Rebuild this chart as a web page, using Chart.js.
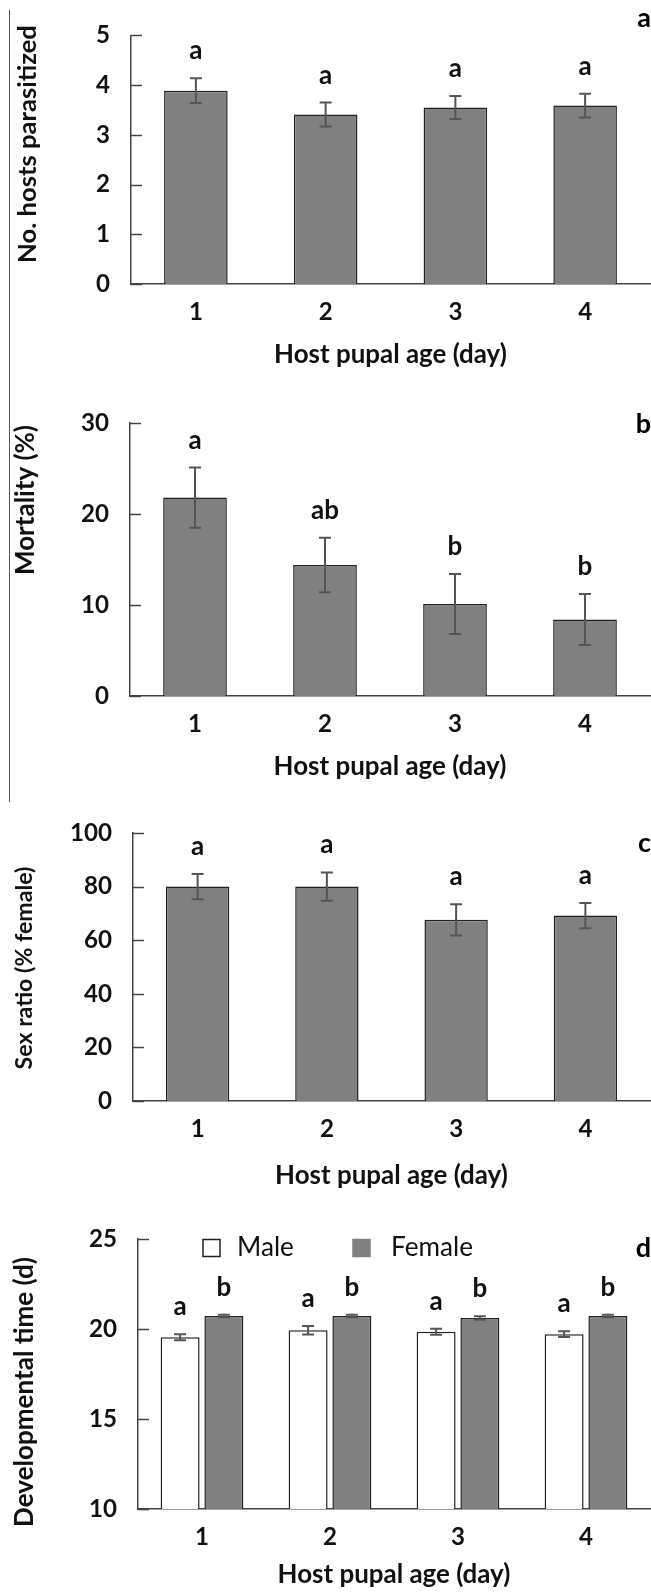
<!DOCTYPE html>
<html>
<head>
<meta charset="utf-8">
<script src="https://cdn.jsdelivr.net/npm/chart.js@4.4.0/dist/chart.umd.min.js"></script>
<style>
html, body { margin: 0; padding: 0; background: #fff; }
#page { position: relative; width: 651px; height: 1594px; overflow: hidden; }
#page canvas { position: absolute; left: 0; }
#edge { position: absolute; left: 9px; top: 10px; width: 1px; height: 792px; background: #555; }
</style>
</head>
<body>
<div id="page">
    <div id="edge"></div>
    <canvas id="chart_a" width="651" height="375" style="top:0px"></canvas>
    <canvas id="chart_b" width="651" height="410" style="top:380px"></canvas>
    <canvas id="chart_c" width="651" height="405" style="top:790px"></canvas>
    <canvas id="chart_d" width="651" height="394" style="top:1200px"></canvas>
</div>
<script>
const ages = ['1', '2', '3', '4'];

const hosts_mean = [3.89, 3.41, 3.55, 3.59];
const hosts_se = [0.25, 0.24, 0.23, 0.24];
const hosts_letters = ['a', 'a', 'a', 'a'];

const mort_mean = [21.8, 14.4, 10.1, 8.4];
const mort_se = [3.3, 3.0, 3.3, 2.8];
const mort_letters = ['a', 'ab', 'b', 'b'];

const sex_mean = [80.0, 80.0, 67.6, 69.2];
const sex_se = [4.7, 5.3, 5.8, 4.7];
const sex_letters = ['a', 'a', 'a', 'a'];

const male_dev = [19.54, 19.93, 19.85, 19.71];
const male_se = [0.17, 0.24, 0.17, 0.16];
const male_letters = ['a', 'a', 'a', 'a'];
const female_dev = [20.72, 20.72, 20.61, 20.72];
const female_se = [0.07, 0.07, 0.10, 0.07];
const female_letters = ['b', 'b', 'b', 'b'];

const FONT = 'Lato, "Open Sans", sans-serif';
const INK = '#111';

// pick a font size so a text gets the width it has in the figure
const measure_ctx = document.createElement('canvas').getContext('2d');
function fit_size(text, weight, target) {
    measure_ctx.font = weight + ' 100px ' + FONT;
    return 100 * target / measure_ctx.measureText(text).width;
}
const TICK_SIZE = fit_size('100', 'bold', 42);
const XTITLE_SIZE = fit_size('Host pupal age (day)', 'bold', 233);
const LETTER_SIZE = fit_size('ab', 'bold', 28);
const LEGEND_SIZE = fit_size('Female', 'normal', 82);

// error bars, letters, inward ticks, y title, panel letter, legend
const decor = {
    id: 'decor',
    afterDatasetsDraw(chart, args, opts) {
        const ctx = chart.ctx;
        const y = chart.scales.y;
        ctx.save();
        chart.data.datasets.forEach((ds, i) => {
            chart.getDatasetMeta(i).data.forEach((bar, j) => {
                const v = ds.data[j], e = ds.se[j];
                const top = y.getPixelForValue(v + e);
                const bot = y.getPixelForValue(v - e);
                ctx.strokeStyle = '#555';
                ctx.lineWidth = 2;
                ctx.beginPath();
                ctx.moveTo(bar.x, top); ctx.lineTo(bar.x, bot);
                ctx.moveTo(bar.x - 6, top); ctx.lineTo(bar.x + 6, top);
                ctx.moveTo(bar.x - 6, bot); ctx.lineTo(bar.x + 6, bot);
                ctx.stroke();
                ctx.fillStyle = INK;
                ctx.font = 'bold ' + LETTER_SIZE + 'px ' + FONT;
                ctx.textAlign = 'center';
                ctx.textBaseline = 'alphabetic';
                ctx.fillText(ds.letters[j], bar.x, top - 19);
            });
        });
        ctx.restore();
    },
    afterDraw(chart, args, opts) {
        const ctx = chart.ctx;
        const y = chart.scales.y;
        ctx.save();
        ctx.strokeStyle = '#444';
        ctx.lineWidth = 1.5;
        y.ticks.forEach(t => {
            const py = Math.round(y.getPixelForValue(t.value)) + 0.5;
            ctx.beginPath();
            ctx.moveTo(y.right, py);
            ctx.lineTo(y.right + 11, py);
            ctx.stroke();
        });

        // y title, rotated, centred where it sits in the figure
        ctx.save();
        ctx.translate(opts.ytitle.x, opts.ytitle.y);
        ctx.rotate(-Math.PI / 2);
        ctx.fillStyle = INK;
        ctx.font = 'bold ' + fit_size(opts.ytitle.text, 'bold', opts.ytitle.len) + 'px ' + FONT;
        ctx.textAlign = 'center';
        ctx.textBaseline = 'middle';
        ctx.fillText(opts.ytitle.text, 0, 0);
        ctx.restore();

        ctx.fillStyle = '#000';
        ctx.font = 'bold 27px ' + FONT;
        ctx.textAlign = 'right';
        ctx.textBaseline = 'alphabetic';
        ctx.fillText(opts.panel, 651, opts.panelY);

        if (opts.legend) {
            const lg = opts.legend;
            ctx.font = LEGEND_SIZE + 'px ' + FONT;
            ctx.textAlign = 'left';
            ctx.textBaseline = 'middle';
            chart.data.datasets.forEach((ds, i) => {
                ctx.fillStyle = ds.backgroundColor;
                ctx.fillRect(lg.box[i], lg.y - 8.5, 17, 17);
                ctx.strokeStyle = ds.legendBorder;
                ctx.lineWidth = 1.5;
                ctx.strokeRect(lg.box[i], lg.y - 8.5, 17, 17);
                ctx.fillStyle = INK;
                ctx.fillText(ds.label, lg.text[i], lg.y);
            });
        }
        ctx.restore();
    }
};

function make_Chart(canvas_id, p) {
    return new Chart(document.getElementById(canvas_id), {
        type: 'bar',
        data: { labels: ages, datasets: p.datasets },
        options: {
            responsive: false,
            animation: false,
            layout: { padding: { top: p.top, right: 1, left: 0, bottom: 0 } },
            plugins: {
                legend: { display: false },
                tooltip: { enabled: false },
                decor: { panel: p.panel, panelY: p.panelY, legend: p.legend, ytitle: p.ytitle }
            },
            scales: {
                x: {
                    grid: { display: false, drawTicks: false },
                    border: { color: '#444', width: 1.5 },
                    ticks: { padding: 14, color: INK, font: { family: FONT, size: TICK_SIZE, weight: 'bold' } },
                    title: {
                        display: true, text: 'Host pupal age (day)', color: INK,
                        font: { family: FONT, size: XTITLE_SIZE, weight: 'bold' },
                        padding: { top: 0, bottom: p.h - p.xtitleY - XTITLE_SIZE * 0.6 }
                    },
                    afterFit: s => { s.height = p.h - p.bottom; }
                },
                y: {
                    min: p.min, max: p.max,
                    grid: { display: false, drawTicks: false },
                    border: { color: '#444', width: 1.5 },
                    ticks: { stepSize: p.step, padding: 21, color: INK, font: { family: FONT, size: TICK_SIZE, weight: 'bold' } },
                    title: { display: false },
                    afterFit: s => { s.width = p.left; }
                }
            }
        },
        plugins: [decor]
    });
}

function grey_set(label, values, se, letters) {
    return {
        label: label, data: values, se: se, letters: letters,
        backgroundColor: '#808080', borderColor: '#222', borderWidth: 1.5,
        legendBorder: '#808080',
        barPercentage: 0.49, categoryPercentage: 1
    };
}

make_Chart('chart_a', {
    datasets: [grey_set('Hosts', hosts_mean, hosts_se, hosts_letters)],
    h: 375, top: 20, bottom: 284, left: 131, xtitleY: 355,
    min: 0, max: 5, step: 1,
    ytitle: { text: 'No. hosts parasitized', len: 238, x: 28, y: 144 },
    panel: 'a', panelY: 27
});

make_Chart('chart_b', {
    datasets: [grey_set('Mortality', mort_mean, mort_se, mort_letters)],
    h: 410, top: 43, bottom: 316, left: 130, xtitleY: 387,
    min: 0, max: 30, step: 10,
    ytitle: { text: 'Mortality (%)', len: 150, x: 26, y: 120 },
    panel: 'b', panelY: 53
});

make_Chart('chart_c', {
    datasets: [grey_set('Sex ratio', sex_mean, sex_se, sex_letters)],
    h: 405, top: 43, bottom: 311, left: 133, xtitleY: 386,
    min: 0, max: 100, step: 20,
    ytitle: { text: 'Sex ratio (% female)', len: 203, x: 25, y: 178 },
    panel: 'c', panelY: 62
});

const male_set = {
    label: 'Male', data: male_dev, se: male_se, letters: male_letters,
    backgroundColor: '#ffffff', borderColor: '#222', borderWidth: 1.5, legendBorder: '#222',
    barPercentage: 0.89, categoryPercentage: 0.684
};
const female_set = {
    label: 'Female', data: female_dev, se: female_se, letters: female_letters,
    backgroundColor: '#808080', borderColor: '#222', borderWidth: 1.5, legendBorder: '#808080',
    barPercentage: 0.89, categoryPercentage: 0.684
};

make_Chart('chart_d', {
    datasets: [male_set, female_set],
    h: 394, top: 39, bottom: 309, left: 138, xtitleY: 375,
    min: 10, max: 25, step: 5,
    ytitle: { text: 'Developmental time (d)', len: 270, x: 25, y: 192 },
    panel: 'd', panelY: 57,
    legend: { y: 48, box: [203, 353], text: [237, 391] }
});
</script>
</body>
</html>
